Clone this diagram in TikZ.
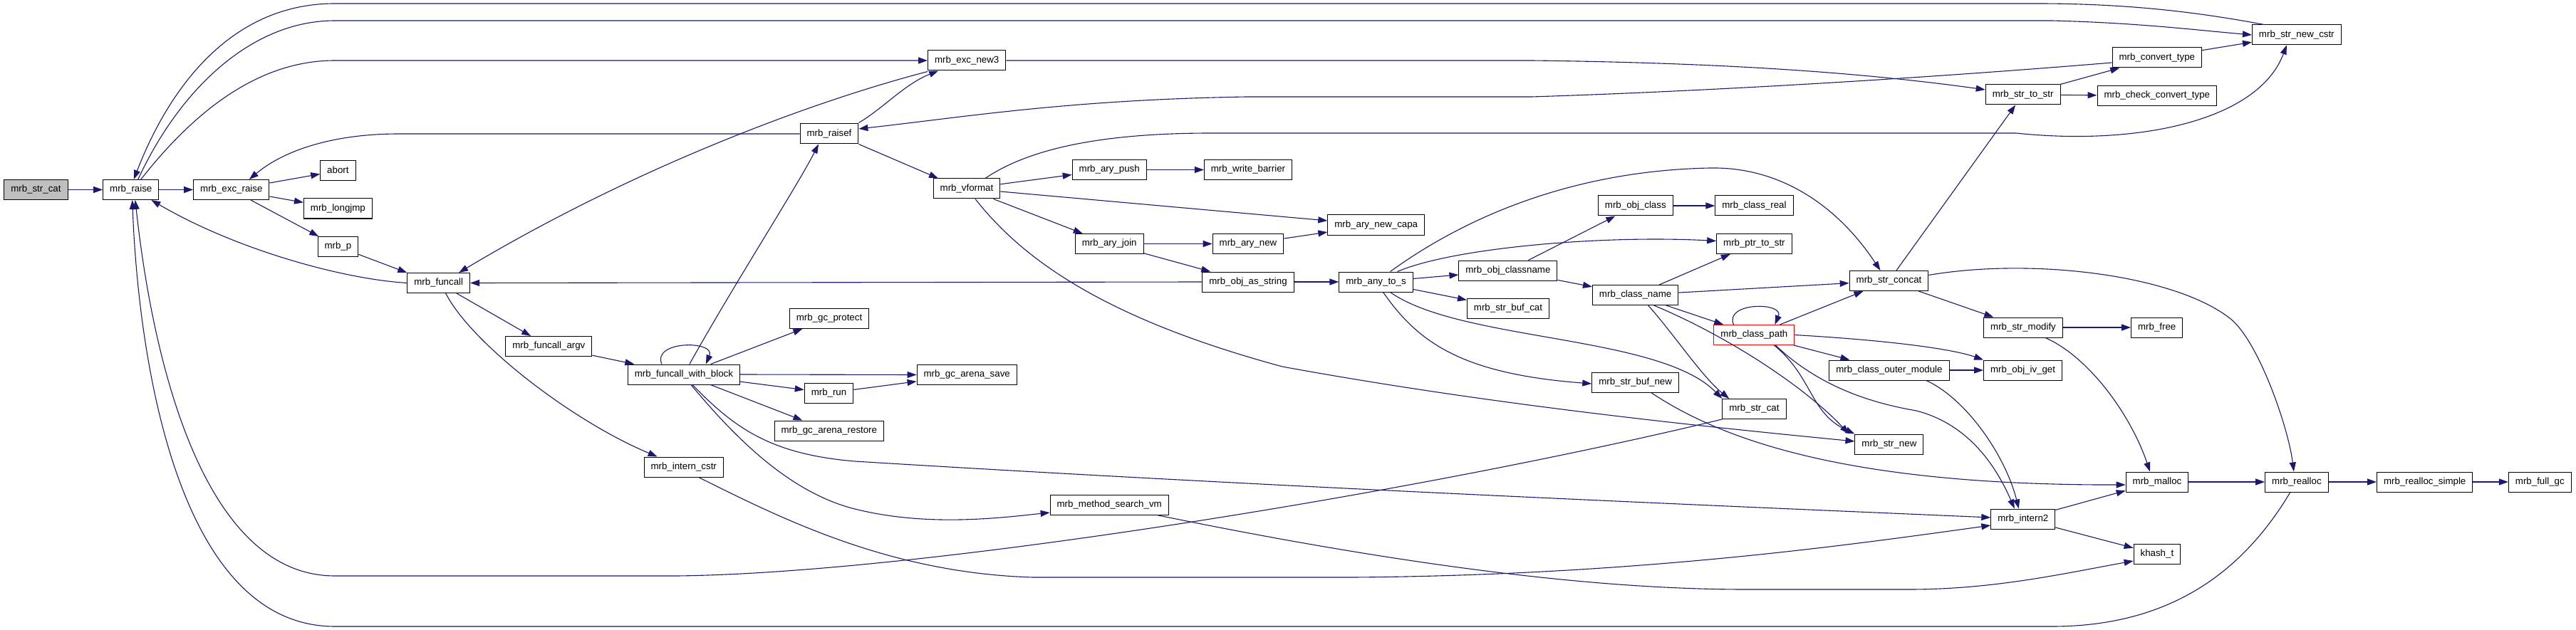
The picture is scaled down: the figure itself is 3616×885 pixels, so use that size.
\documentclass[tikz,border=0pt]{standalone}
\usepackage{fontspec}
\setmainfont{Liberation Sans}
\usetikzlibrary{arrows.meta}
\definecolor{edgeblue}{HTML}{191970}
\definecolor{rootgray}{HTML}{BFBFBF}
\tikzset{
  fn/.style={draw=black, fill=white, line width=1pt, inner xsep=9.5pt, inner ysep=0pt,
    minimum height=28pt, text height=9.6pt, text depth=2.8pt, font=\fontsize{13.3}{16}\selectfont},
  call/.style={draw=edgeblue, line width=1.1pt, -{Triangle[length=13pt,width=9pt]}}
}
\begin{document}
\begin{tikzpicture}[x=1pt, y=-1pt]
    \useasboundingbox (0,0) rectangle (3616,885);
    \node [fn, fill=rootgray] (strcat) at (50.4,266.5) {mrb\_str\_cat};
    \node [fn] (raise) at (183.8,266.5) {mrb\_raise};
    \node [fn] (excraise) at (324.8,266.5) {mrb\_exc\_raise};
    \node [fn] (abort) at (474.4,240) {abort};
    \node [fn] (longjmp) at (474.4,293) {mrb\_longjmp};
    \node [fn] (mrbp) at (474.4,346.5) {mrb\_p};
    \node [fn] (funcall) at (615.7,397.5) {mrb\_funcall};
    \node [fn] (funcallargv) at (770.4,486.5) {mrb\_funcall\_argv};
    \node [fn] (fwb) at (959.9,526) {mrb\_funcall\_with\_block};
    \node [fn] (interncstr) at (959.7,656) {mrb\_intern\_cstr};
    \node [fn] (raisef) at (1164,188) {mrb\_raisef};
    \node [fn] (gcprotect) at (1164,447.5) {mrb\_gc\_protect};
    \node [fn] (mrbrun) at (1163.5,552) {mrb\_run};
    \node [fn] (gcrestore) at (1163.8,605) {mrb\_gc\_arena\_restore};
    \node [fn] (excnew3) at (1357.2,85) {mrb\_exc\_new3};
    \node [fn] (vformat) at (1357,265) {mrb\_vformat};
    \node [fn] (gcsave) at (1357.2,526.5) {mrb\_gc\_arena\_save};
    \node [fn] (arypush) at (1557.2,238.5) {mrb\_ary\_push};
    \node [fn] (aryjoin) at (1557.2,342.5) {mrb\_ary\_join};
    \node [fn] (searchvm) at (1557.2,709) {mrb\_method\_search\_vm};
    \node [fn] (writebarrier) at (1752,238.5) {mrb\_write\_barrier};
    \node [fn] (arynew) at (1752,342.5) {mrb\_ary\_new};
    \node [fn] (objasstr) at (1752,396) {mrb\_obj\_as\_string};
    \node [fn] (arynewcapa) at (1931.7,316) {mrb\_ary\_new\_capa};
    \node [fn] (anytos) at (1931.5,396) {mrb\_any\_to\_s};
    \node [fn] (objclassname) at (2116.9,380) {mrb\_obj\_classname};
    \node [fn] (strbufcat) at (2117,433) {mrb\_str\_buf\_cat};
    \node [fn] (objclass) at (2295.8,289) {mrb\_obj\_class};
    \node [fn] (classname) at (2295.6,414.5) {mrb\_class\_name};
    \node [fn] (strbufnew) at (2295.6,537) {mrb\_str\_buf\_new};
    \node [fn] (classreal) at (2462.4,289) {mrb\_class\_real};
    \node [fn] (ptrtostr) at (2462.4,342.5) {mrb\_ptr\_to\_str};
    \node [fn, draw=red] (classpath) at (2462.4,470.5) {mrb\_class\_path};
    \node [fn] (strcattwo) at (2462.4,574.5) {mrb\_str\_cat};
    \node [fn] (strconcat) at (2651.5,394.5) {mrb\_str\_concat};
    \node [fn] (outermod) at (2651.9,520) {mrb\_class\_outer\_module};
    \node [fn] (strnew) at (2651.9,624) {mrb\_str\_new};
    \node [fn] (strtostr) at (2839.6,133) {mrb\_str\_to\_str};
    \node [fn] (strmodify) at (2840,460) {mrb\_str\_modify};
    \node [fn] (objivget) at (2839.6,520) {mrb\_obj\_iv\_get};
    \node [fn] (intern2) at (2839.8,729) {mrb\_intern2};
    \node [fn] (convtype) at (3027.8,81) {mrb\_convert\_type};
    \node [fn] (checkconv) at (3027.8,134.5) {mrb\_check\_convert\_type};
    \node [fn] (free) at (3027.7,460) {mrb\_free};
    \node [fn] (malloc) at (3028,677) {mrb\_malloc};
    \node [fn] (khash) at (3027.9,778.5) {khash\_t};
    \node [fn] (strnewcstr) at (3223.8,49) {mrb\_str\_new\_cstr};
    \node [fn] (realloc) at (3223.9,677) {mrb\_realloc};
    \node [fn] (reallocsimple) at (3403.7,677) {mrb\_realloc\_simple};
    \node [fn] (fullgc) at (3565.3,677) {mrb\_full\_gc};
    \draw [call] (strcat) -- (raise);
    \draw [call] (raise) -- (excraise);
    \draw [call] ([xshift=10pt]raise.north) .. controls (250,130) and (350,29) .. (470,29) -- (2880,29) .. controls (3000,32) and (3080,42) .. (strnewcstr.west);
    \draw [call] ([xshift=14pt]raise.north) .. controls (270,160) and (360,85) .. (470,85) -- (excnew3.west);
    \draw [call] ([xshift=17pt]strnewcstr.north west) .. controls (3100,20) and (3000,5) .. (2860,5) -- (470,5) .. controls (320,5) and (235,130) .. ([xshift=4pt]raise.north);
    \draw [call] (excraise) -- (abort);
    \draw [call] (excraise) -- (longjmp);
    \draw [call] (excraise) -- (mrbp);
    \draw [call] (mrbp) -- (funcall.north west);
    \draw [call] (funcall.west) .. controls (480,392) and (330,350) .. ([xshift=-11pt]raise.south east);
    \draw [call] (funcall) -- (funcallargv);
    \draw [call] ([xshift=10pt]funcall.south) .. controls (660,480) and (800,590) .. ([xshift=-37pt]interncstr.north);
    \draw [call] ([yshift=-1pt]excnew3.south west) .. controls (1150,140) and (900,230) .. ([xshift=-16pt]funcall.north east);
    \draw [call] (excnew3.east) -- (2150,85) .. controls (2400,88) and (2600,100) .. ([yshift=7pt]strtostr.west);
    \draw [call] (raisef.west) -- (560,188) .. controls (470,188) and (400,210) .. ([xshift=25pt]excraise.north);
    \draw [call] ([yshift=1pt]raisef.north east) .. controls (1240,152) and (1270,118) .. ([xshift=-40pt]excnew3.south);
    \draw [call] (raisef.south east) -- ([xshift=-40pt]vformat.north);
    \draw [call] ([xshift=8pt]fwb.north) .. controls (1030,400) and (1120,260) .. ([xshift=-15pt]raisef.south);
    \draw [call] ([yshift=-7pt]convtype.west) .. controls (2700,110) and (2400,128) .. (2150,136) -- (1750,136) .. controls (1500,140) and (1350,165) .. ([yshift=7pt]raisef.east);
    \draw [call] (funcallargv) -- (fwb);
    \draw [call] ([xshift=-31pt]fwb.north) .. controls (915,478) and (1005,478) .. ([xshift=31pt]fwb.north);
    \draw [call] (fwb) -- (gcprotect);
    \draw [call] (fwb.east) -- (gcsave.west);
    \draw [call] (fwb) -- (mrbrun);
    \draw [call] (mrbrun) -- (gcsave);
    \draw [call] (fwb) -- (gcrestore);
    \draw [call] ([xshift=12pt]fwb.south) .. controls (1030,600) and (1080,638) .. (1200,648) .. controls (1800,685) and (2400,710) .. ([yshift=2pt]intern2.west);
    \draw [call] ([xshift=10pt]fwb.south) .. controls (1020,600) and (1100,690) .. (1200,715) .. controls (1300,740) and (1400,728) .. ([yshift=-11pt]searchvm.west);
    \draw [call] ([xshift=21pt]interncstr.south) .. controls (1100,730) and (1250,805) .. (1450,811) -- (1900,811) .. controls (2300,808) and (2600,765) .. ([yshift=-9pt]intern2.west);
    \draw [call] ([xshift=-17pt]searchvm.south east) .. controls (1900,780) and (2200,828) .. (2450,828) -- (2680,828) .. controls (2800,828) and (2900,805) .. ([yshift=-9.5pt]khash.west);
    \draw [call] ([xshift=26pt]vformat.north) .. controls (1450,205) and (1560,187) .. (1700,187) -- (2830,187) .. controls (3000,205) and (3170,170) .. ([xshift=-14pt]strnewcstr.south);
    \draw [call] (vformat) -- (arypush);
    \draw [call] (arypush) -- (writebarrier);
    \draw [call] ([yshift=-4pt]vformat.east) -- ([yshift=6pt]arynewcapa.west);
    \draw [call] (vformat) -- (aryjoin);
    \draw [call] (aryjoin) -- (arynew);
    \draw [call] (arynew) -- (arynewcapa);
    \draw [call] (aryjoin) -- (objasstr);
    \draw [call] ([xshift=12pt]vformat.south) .. controls (1440,370) and (1560,450) .. (1800,515) .. controls (2100,570) and (2400,600) .. ([yshift=4pt]strnew.west);
    \draw [call] (objasstr.west) -- (funcall.east);
    \draw [call] (objasstr) -- (anytos);
    \draw [call] (anytos) -- (objclassname);
    \draw [call] (anytos) -- (strbufcat);
    \draw [call] ([xshift=20pt]anytos.north) .. controls (2050,310) and (2200,240) .. (2400,236) .. controls (2500,234) and (2580,290) .. ([xshift=-12pt]strconcat.north);
    \draw [call] ([xshift=30pt]anytos.north) .. controls (2040,348) and (2250,330) .. ([yshift=4pt]ptrtostr.west);
    \draw [call] ([xshift=10pt]anytos.south) .. controls (1990,480) and (2050,525) .. ([yshift=-2pt]strbufnew.west);
    \draw [call] ([xshift=20pt]anytos.south) .. controls (2050,480) and (2330,470) .. (strcattwo.north west);
    \draw [call] (objclassname) -- (objclass);
    \draw [call] (objclassname) -- (classname);
    \draw [call] (objclass) -- (classreal);
    \draw [call] (classname) -- (ptrtostr);
    \draw [call] (classname) -- (strconcat);
    \draw [call] (classname) -- (classpath);
    \draw [call] ([xshift=18pt]classname.south) .. controls (2350,470) and (2390,530) .. ([xshift=10pt]strcattwo.north west);
    \draw [call] ([xshift=26pt]classname.south) .. controls (2420,470) and (2530,540) .. ([xshift=-8pt]strnew.north west);
    \draw [call] ([xshift=-29pt]classpath.north) .. controls (2420,424) and (2505,424) .. ([xshift=29pt]classpath.north);
    \draw [call] (classpath) -- (strconcat);
    \draw [call] (classpath.east) .. controls (2650,478) and (2740,490) .. (objivget.north west);
    \draw [call] (classpath) -- (outermod);
    \draw [call] ([xshift=28pt]classpath.south) .. controls (2545,530) and (2540,580) .. (strnew.north west);
    \draw [call] ([xshift=30pt]classpath.south) .. controls (2550,540) and (2620,565) .. (2690,577) .. controls (2760,595) and (2800,650) .. ([xshift=-12pt]intern2.north);
    \draw [call] (outermod) -- (objivget);
    \draw [call] ([xshift=52pt]outermod.south) .. controls (2760,560) and (2815,640) .. ([xshift=-6pt]intern2.north);
    \draw [call] (strconcat) -- (strtostr);
    \draw [call] (strconcat) -- (strmodify);
    \draw [call] ([yshift=8pt]strconcat.east) .. controls (2850,362) and (3050,385) .. (3130,447) .. controls (3170,478) and (3212,600) .. ([xshift=-4pt]realloc.north);
    \draw [call] (strtostr) -- (convtype);
    \draw [call] (strtostr) -- (checkconv);
    \draw [call] (convtype) -- (strnewcstr);
    \draw [call] (strmodify) -- (free);
    \draw [call] ([xshift=31pt]strmodify.south) .. controls (2930,500) and (2990,580) .. ([xshift=-10pt]malloc.north);
    \draw [call] ([xshift=22pt]strbufnew.south) .. controls (2420,620) and (2600,682) .. ([yshift=-4pt]malloc.west);
    \draw [call] (intern2) -- (malloc);
    \draw [call] (intern2) -- (khash);
    \draw [call] (malloc) -- (realloc);
    \draw [call] (realloc) -- (reallocsimple);
    \draw [call] (reallocsimple) -- (fullgc);
    \draw [call] ([xshift=-9pt]realloc.south) .. controls (3150,800) and (3050,880) .. (2880,880) -- (470,880) .. controls (220,880) and (190,400) .. ([xshift=2pt]raise.south);
    \draw [call] (strcattwo.south west) .. controls (2000,690) and (1300,805) .. (950,809) -- (470,809) .. controls (260,809) and (205,420) .. ([xshift=6pt]raise.south);
\end{tikzpicture}
\end{document}
